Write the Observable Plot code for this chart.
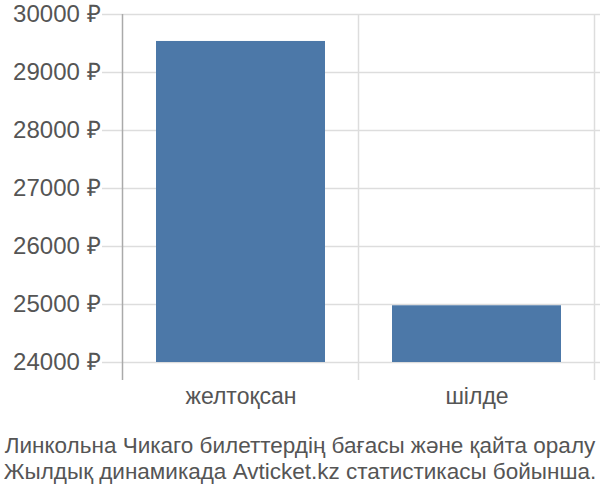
<!DOCTYPE html>
<html>
<head>
<meta charset="utf-8">
<script src="https://cdn.jsdelivr.net/npm/d3@7"></script>
<script src="https://cdn.jsdelivr.net/npm/@observablehq/plot@0.6"></script>
<style>
  html, body { margin: 0; padding: 0; background: #fff; }
  #chart { width: 600px; height: 420px; }
  .caption { width: 600px; text-align: center; font-family: "Liberation Sans", sans-serif; font-size: 22.5px; color: #555; line-height: 26px; white-space: nowrap; margin-top: 13px; }
</style>
</head>
<body>
<div id="chart"></div>
<div class="caption">Линкольна Чикаго билеттердің бағасы және қайта оралу<br>Жылдық динамикада Avticket.kz статистикасы бойынша.</div>
<script>
const categories = ["желтоқсан", "шілде"];
const prices = [29535, 24978];
const yTicks = [24000, 25000, 26000, 27000, 28000, 29000, 30000];
const baseline = 24000;
const currency = "₽";

const data = categories.map((c, i) => ({month: c, price: prices[i]}));

function bandBoundaries(index, scales, values, dimensions) {
  const x = scales.x;
  const bw = x.bandwidth ? x.bandwidth() : 0;
  const step = x.step ? x.step() : bw;
  const half = (step - bw) / 2;
  const xs = [];
  categories.forEach((c, i) => {
    const left = x(c) - half;
    if (i === 0) xs.push({v: left, axis: true});
    xs.push({v: left + step, axis: false});
  });
  const g = d3.create("svg:g");
  const y0 = dimensions.marginTop;
  const y1 = dimensions.height - dimensions.marginBottom;
  for (const p of xs) {
    g.append("line")
      .attr("x1", p.v).attr("x2", p.v)
      .attr("y1", y0).attr("y2", y1)
      .attr("stroke", p.axis ? "#aaa" : "#ddd")
      .attr("stroke-width", 1.5);
  }
  return g.node();
}

const chart = Plot.plot({
  width: 600,
  height: 420,
  marginLeft: 122,
  marginRight: 6,
  marginTop: 14,
  marginBottom: 40,
  style: {fontFamily: "Liberation Sans, sans-serif", color: "#555", background: "#fff"},
  x: {domain: categories, paddingInner: 0.284, paddingOuter: 0.142},
  y: {domain: [baseline, 30000], insetBottom: 18},
  marks: [
    Plot.ruleY(yTicks, {y: d => d, stroke: "#ddd", strokeWidth: 1.5, insetLeft: -20, insetRight: -6}),
    bandBoundaries,
    Plot.barY(data, {x: "month", y1: baseline, y2: "price", fill: "#4c78a8"}),
    Plot.axisY(yTicks, {tickSize: 0, tickPadding: 22, fontSize: 24, tickFormat: d => `${d} ${currency}`, fill: "#555", label: null}),
    Plot.axisX({tickSize: 0, tickPadding: 7, fontSize: 23, fill: "#555", label: null})
  ]
});
document.getElementById("chart").appendChild(chart);
</script>
</body>
</html>
